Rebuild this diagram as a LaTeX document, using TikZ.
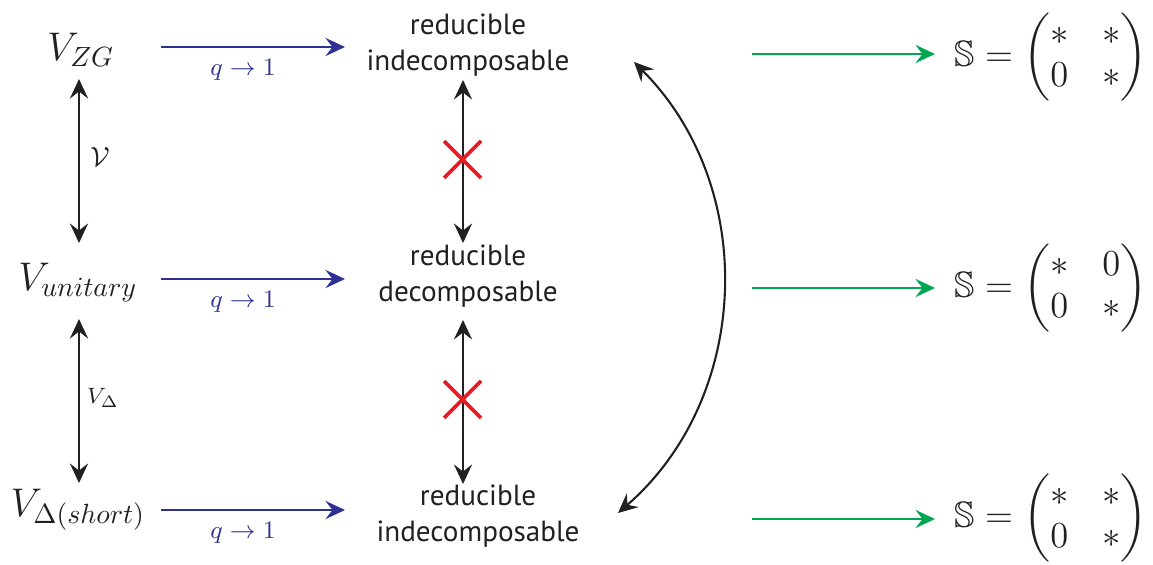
\documentclass[tikz,border=0pt]{standalone}
\usepackage{amsmath,amssymb}
\usepackage{fontspec}
\newfontfamily\txtfont{PT Sans}
\usetikzlibrary{arrows.meta}
\definecolor{qblue}{HTML}{2E3192}
\definecolor{qgreen}{HTML}{00A651}
\definecolor{qred}{HTML}{ED1C24}
\definecolor{qblack}{HTML}{231F20}
\newcommand{\smat}[4]{$\mathbb{S}=\setlength\arraycolsep{5.5pt}\begin{pmatrix}#1 & #2\\ #3 & #4\end{pmatrix}$}
\begin{document}
\begin{tikzpicture}[x=0.36pt,y=-0.36pt,
  headtip/.style={-{Stealth[length=7pt,width=6.5pt,inset=2.5pt]}},
  dbltip/.style={{Stealth[length=7pt,width=6.5pt,inset=2.5pt]}-{Stealth[length=7pt,width=6.5pt,inset=2.5pt]}},
  bluearr/.style={headtip,qblue,line width=0.95pt},
  greenarr/.style={headtip,qgreen,line width=0.95pt},
  vertarr/.style={dbltip,qblack,line width=0.9pt},
  curvarr/.style={dbltip,qblack,line width=0.75pt},
  crossmark/.style={qred,line width=1.3pt},
  txtlab/.style={inner sep=0pt,align=center,text=qblack,font=\txtfont\fontsize{10.5}{13}\selectfont},
  mathlab/.style={inner sep=0pt,text=qblack,font=\Large},
  matlab/.style={inner sep=0pt,text=qblack,font=\large,scale=1.1},
  qlab/.style={inner sep=0pt,text=qblue,font=\small},
  smalllab/.style={inner sep=0pt,text=qblack}
]
\useasboundingbox (0,0) rectangle (1153,565);

% left column
\node[mathlab] (vz) at (81,50) {$V_{ZG}$};
\node[mathlab] (vu) at (78,283) {$V_{unitary}$};
\node[mathlab] (vd) at (78,510) {$V_{\Delta(short)}$};

% middle column
\node[txtlab] (r1) at (468,45) {reducible\\indecomposable};
\node[txtlab] (r2) at (468,276) {reducible\\decomposable};
\node[txtlab] (r3) at (478,516) {reducible\\indecomposable};

% right column
\node[matlab] (m1) at (1051,57) {\smat{*}{*}{0}{*}};
\node[matlab] (m2) at (1051,288) {\smat{*}{0}{0}{*}};
\node[matlab] (m3) at (1051,518) {\smat{*}{*}{0}{*}};

% arrow end points
\coordinate (l1a) at (79,79);  \coordinate (l1b) at (79,243);
\coordinate (l2a) at (79,319); \coordinate (l2b) at (79,483);
\coordinate (c1a) at (463,80); \coordinate (c1b) at (463,243);
\coordinate (c2a) at (463,320);\coordinate (c2b) at (463,484);
\coordinate (b1a) at (161,47); \coordinate (b1b) at (345,47);
\coordinate (b2a) at (161,279);\coordinate (b2b) at (345,279);
\coordinate (b3a) at (161,510);\coordinate (b3b) at (345,510);
\coordinate (g1a) at (752,54); \coordinate (g1b) at (935,54);
\coordinate (g2a) at (752,288);\coordinate (g2b) at (935,288);
\coordinate (g3a) at (752,519);\coordinate (g3b) at (935,519);
\coordinate (ka) at (634,62);  \coordinate (kb) at (618,513);

% left vertical arrows
\draw[vertarr] (l1a) -- (l1b);
\node[smalllab,font=\normalsize] (calv) at (100,157) {$\mathcal{V}$};
\draw[vertarr] (l2a) -- (l2b);
\node[smalllab,font=\footnotesize] (vdl) at (103,398) {$V_{\Delta}$};

% blue arrows
\draw[bluearr] (b1a) -- (b1b);
\node[qlab] (q1) at (243,70) {$q\to1$};
\draw[bluearr] (b2a) -- (b2b);
\node[qlab] (q2) at (243,302) {$q\to1$};
\draw[bluearr] (b3a) -- (b3b);
\node[qlab] (q3) at (243,533) {$q\to1$};

% middle vertical arrows with crosses
\draw[vertarr] (c1a) -- (c1b);
\draw[vertarr] (c2a) -- (c2b);
\draw[crossmark] (444,141) -- (481,178) (444,178) -- (481,141);
\draw[crossmark] (444,381) -- (481,418) (444,418) -- (481,381);

% curved arrow
\draw[curvarr] (ka) to[bend left=47] (kb);

% green arrows
\draw[greenarr] (g1a) -- (g1b);
\draw[greenarr] (g2a) -- (g2b);
\draw[greenarr] (g3a) -- (g3b);
\end{tikzpicture}
\end{document}
